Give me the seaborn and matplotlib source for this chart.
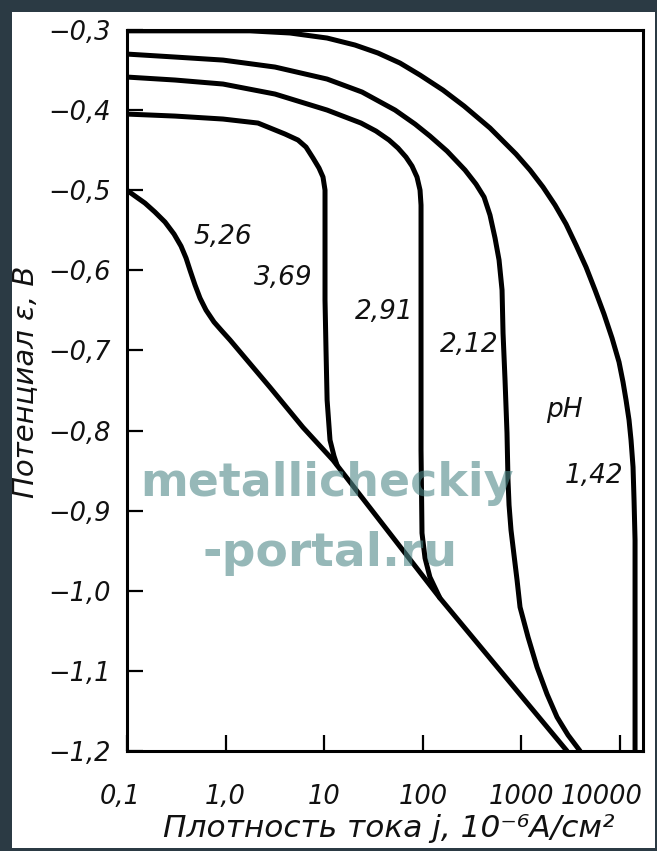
import matplotlib
matplotlib.use("Agg")
import numpy as np
import pandas as pd
import matplotlib.pyplot as plt
import seaborn as sns
from matplotlib.transforms import ScaledTranslation
from matplotlib.patches import Rectangle

# current density j, 10^-6 A/cm2 and potential e, V for each pH curve
ph_labels = ["1,42", "2,12", "2,91", "3,69", "5,26"]

j_142 = [0.1, 0.55, 1.77, 4.5, 10.7, 20.5, 35.1, 58.7, 93.7, 160, 262, 480,
         881, 1222, 1656, 2192, 2833, 3579, 4521, 5579, 6881, 8296, 9770,
         10725, 11506, 12341, 12930, 13550, 13870, 14200, 14200, 14200]
e_142 = [-0.301, -0.301, -0.301, -0.3037, -0.310, -0.3187, -0.3287, -0.3412,
         -0.3562, -0.3749, -0.3949, -0.4223, -0.4548, -0.4748, -0.496, -0.5185,
         -0.5422, -0.5684, -0.5959, -0.6246, -0.6546, -0.6845, -0.7145, -0.7395,
         -0.7619, -0.7869, -0.8119, -0.8456, -0.8868, -0.9367, -1.0116, -1.200]

j_212 = [0.1, 0.307, 0.941, 3.17, 10.7, 24.2, 52.3, 83.4, 118, 176, 268, 346,
         418, 480, 540, 593, 636, 651, 682, 714, 731, 749, 784, 841, 903, 968,
         1167, 1440, 1818, 2297, 2970, 3930]
e_212 = [-0.330, -0.3337, -0.3375, -0.3462, -0.3612, -0.3774, -0.3999, -0.4174,
         -0.4323, -0.4511, -0.4748, -0.4923, -0.5085, -0.531, -0.5597, -0.5871,
         -0.6246, -0.6783, -0.737, -0.8031, -0.8618, -0.893, -0.9242, -0.9554,
         -0.9866, -1.0204, -1.0578, -1.0953, -1.129, -1.1577, -1.1801, -1.200]

j_291 = [0.1, 0.307, 0.941, 3.17, 10.7, 23.6, 33.5, 45.4, 56.0, 67.5, 77.7,
         87.3, 93.7, 95.9, 95.9, 95.9, 98.1, 105.3, 118, 149]
e_291 = [-0.3587, -0.3624, -0.3674, -0.3799, -0.3999, -0.4161, -0.4261,
         -0.4373, -0.4473, -0.4586, -0.4698, -0.4835, -0.4998, -0.5185,
         -0.6371, -0.8243, -0.928, -0.9592, -0.9829, -1.009]

j_369 = [0.1, 0.307, 0.941, 2.13, 4.0, 5.42, 6.54, 7.70, 8.86, 9.72, 10.19,
         10.19, 10.43, 10.7, 11.45, 12.57, 13.49]
e_369 = [-0.4049, -0.4074, -0.4111, -0.4161, -0.4298, -0.4373, -0.4461,
         -0.4598, -0.4723, -0.4835, -0.4998, -0.6371, -0.6995, -0.7619,
         -0.8119, -0.8318, -0.843]

j_526 = [0.1, 0.1205, 0.152, 0.192, 0.243, 0.300, 0.353, 0.397, 0.435, 0.490,
         0.550, 0.633, 0.763, 0.919, 1.11, 2.82, 6.09, 12.3, 149, 2900]
e_526 = [-0.500, -0.5072, -0.516, -0.5272, -0.5397, -0.5547, -0.5697, -0.5846,
         -0.5996, -0.6184, -0.6346, -0.6496, -0.6645, -0.6758, -0.687, -0.746,
         -0.796, -0.837, -1.009, -1.200]

y_ticks = [-0.3, -0.4, -0.5, -0.6, -0.7, -0.8, -0.9, -1.0, -1.1, -1.2]
y_ticklabels = ["−0,3", "−0,4", "−0,5", "−0,6", "−0,7", "−0,8", "−0,9",
                "−1,0", "−1,1", "−1,2"]
x_ticks = [0.1, 1, 10, 100, 1000, 10000]
x_ticklabels = ["0,1", "1,0", "10", "100", "1000", "10000"]

frames = []
for lab, j, e in zip(ph_labels,
                     [j_142, j_212, j_291, j_369, j_526],
                     [e_142, e_212, e_291, e_369, e_526]):
    frames.append(pd.DataFrame({"j": j, "e": e, "pH": lab}))
df = pd.concat(frames, ignore_index=True)

sns.set_theme(style="white")
plt.rcParams["font.family"] = ["DejaVu Sans"]
plt.rcParams["font.style"] = "italic"

fig = plt.figure(figsize=(6.57, 8.51), dpi=100)
fig.patch.set_facecolor("#2b3a44")
fig.patches.append(Rectangle((0.018, 0.0035), 0.979, 0.982, transform=fig.transFigure,
                             facecolor="white", edgecolor="none", zorder=-5))

ax = fig.add_axes([0.1933, 0.1175, 0.7854, 0.8472])
ax.set_zorder(2)
ax.set_facecolor("white")

for lab in ph_labels:
    sub = df[df["pH"] == lab]
    sns.lineplot(data=sub, x="j", y="e", sort=False, estimator=None,
                 color="black", lw=3.6, ax=ax, legend=False,
                 solid_capstyle="round", solid_joinstyle="round")

ax.set_xscale("log")
ax.set_xlim(0.1, 17100)
ax.set_ylim(-1.2, -0.3)
ax.set_xticks(x_ticks)
ax.set_xticklabels(x_ticklabels)
ax.minorticks_off()
ax.set_yticks(y_ticks)
ax.set_yticklabels(y_ticklabels)
ax.set_xlabel("")
ax.set_ylabel("")

for sp in ax.spines.values():
    sp.set_linewidth(2.2)
    sp.set_color("black")

ax.tick_params(axis="both", which="major", direction="in", length=11.5, width=1.6,
               colors="black", labelsize=18.5, bottom=True, left=True,
               top=False, right=False)
ax.tick_params(axis="x", pad=24)
ax.tick_params(axis="y", pad=12)
for t in ax.get_xticklabels() + ax.get_yticklabels():
    t.set_fontstyle("italic")
    t.set_color("#111111")

last = ax.get_xticklabels()[-1]
last.set_transform(last.get_transform() + ScaledTranslation(-0.18, 0, fig.dpi_scale_trans))
first = ax.get_xticklabels()[0]
first.set_transform(first.get_transform() + ScaledTranslation(-0.07, 0, fig.dpi_scale_trans))

# curve labels
label_pos = {"5,26": (0.94, -0.558), "3,69": (3.82, -0.610), "2,91": (40.4, -0.652),
             "2,12": (294, -0.693), "1,42": (5440, -0.857)}
for lab, (x, y) in label_pos.items():
    ax.text(x, y, lab, fontsize=19, style="italic", ha="center", va="center",
            color="#111111")
ax.text(2700, -0.774, "pH", fontsize=19, style="italic", ha="center", va="center",
        color="#111111")

fig.text(0.038, 0.551, "Потенциал ε, В", rotation=90, fontsize=21, style="italic",
         ha="center", va="center", color="#111111")
fig.text(0.591, 0.027, "Плотность тока j, 10⁻⁶A/см²", fontsize=22.5, style="italic",
         ha="center", va="center", color="#111111")

# site watermark, drawn over the axes
ax.text(0.498, 0.432, "metallicheckiy", transform=fig.transFigure, fontsize=33,
        fontweight="bold", style="normal", color="#508a8a", alpha=0.6,
        ha="center", va="center", zorder=10)
ax.text(0.502, 0.350, "-portal.ru", transform=fig.transFigure, fontsize=34,
        fontweight="bold", style="normal", color="#508a8a", alpha=0.6,
        ha="center", va="center", zorder=10)

fig.savefig("out.png", dpi=100, facecolor=fig.get_facecolor())
